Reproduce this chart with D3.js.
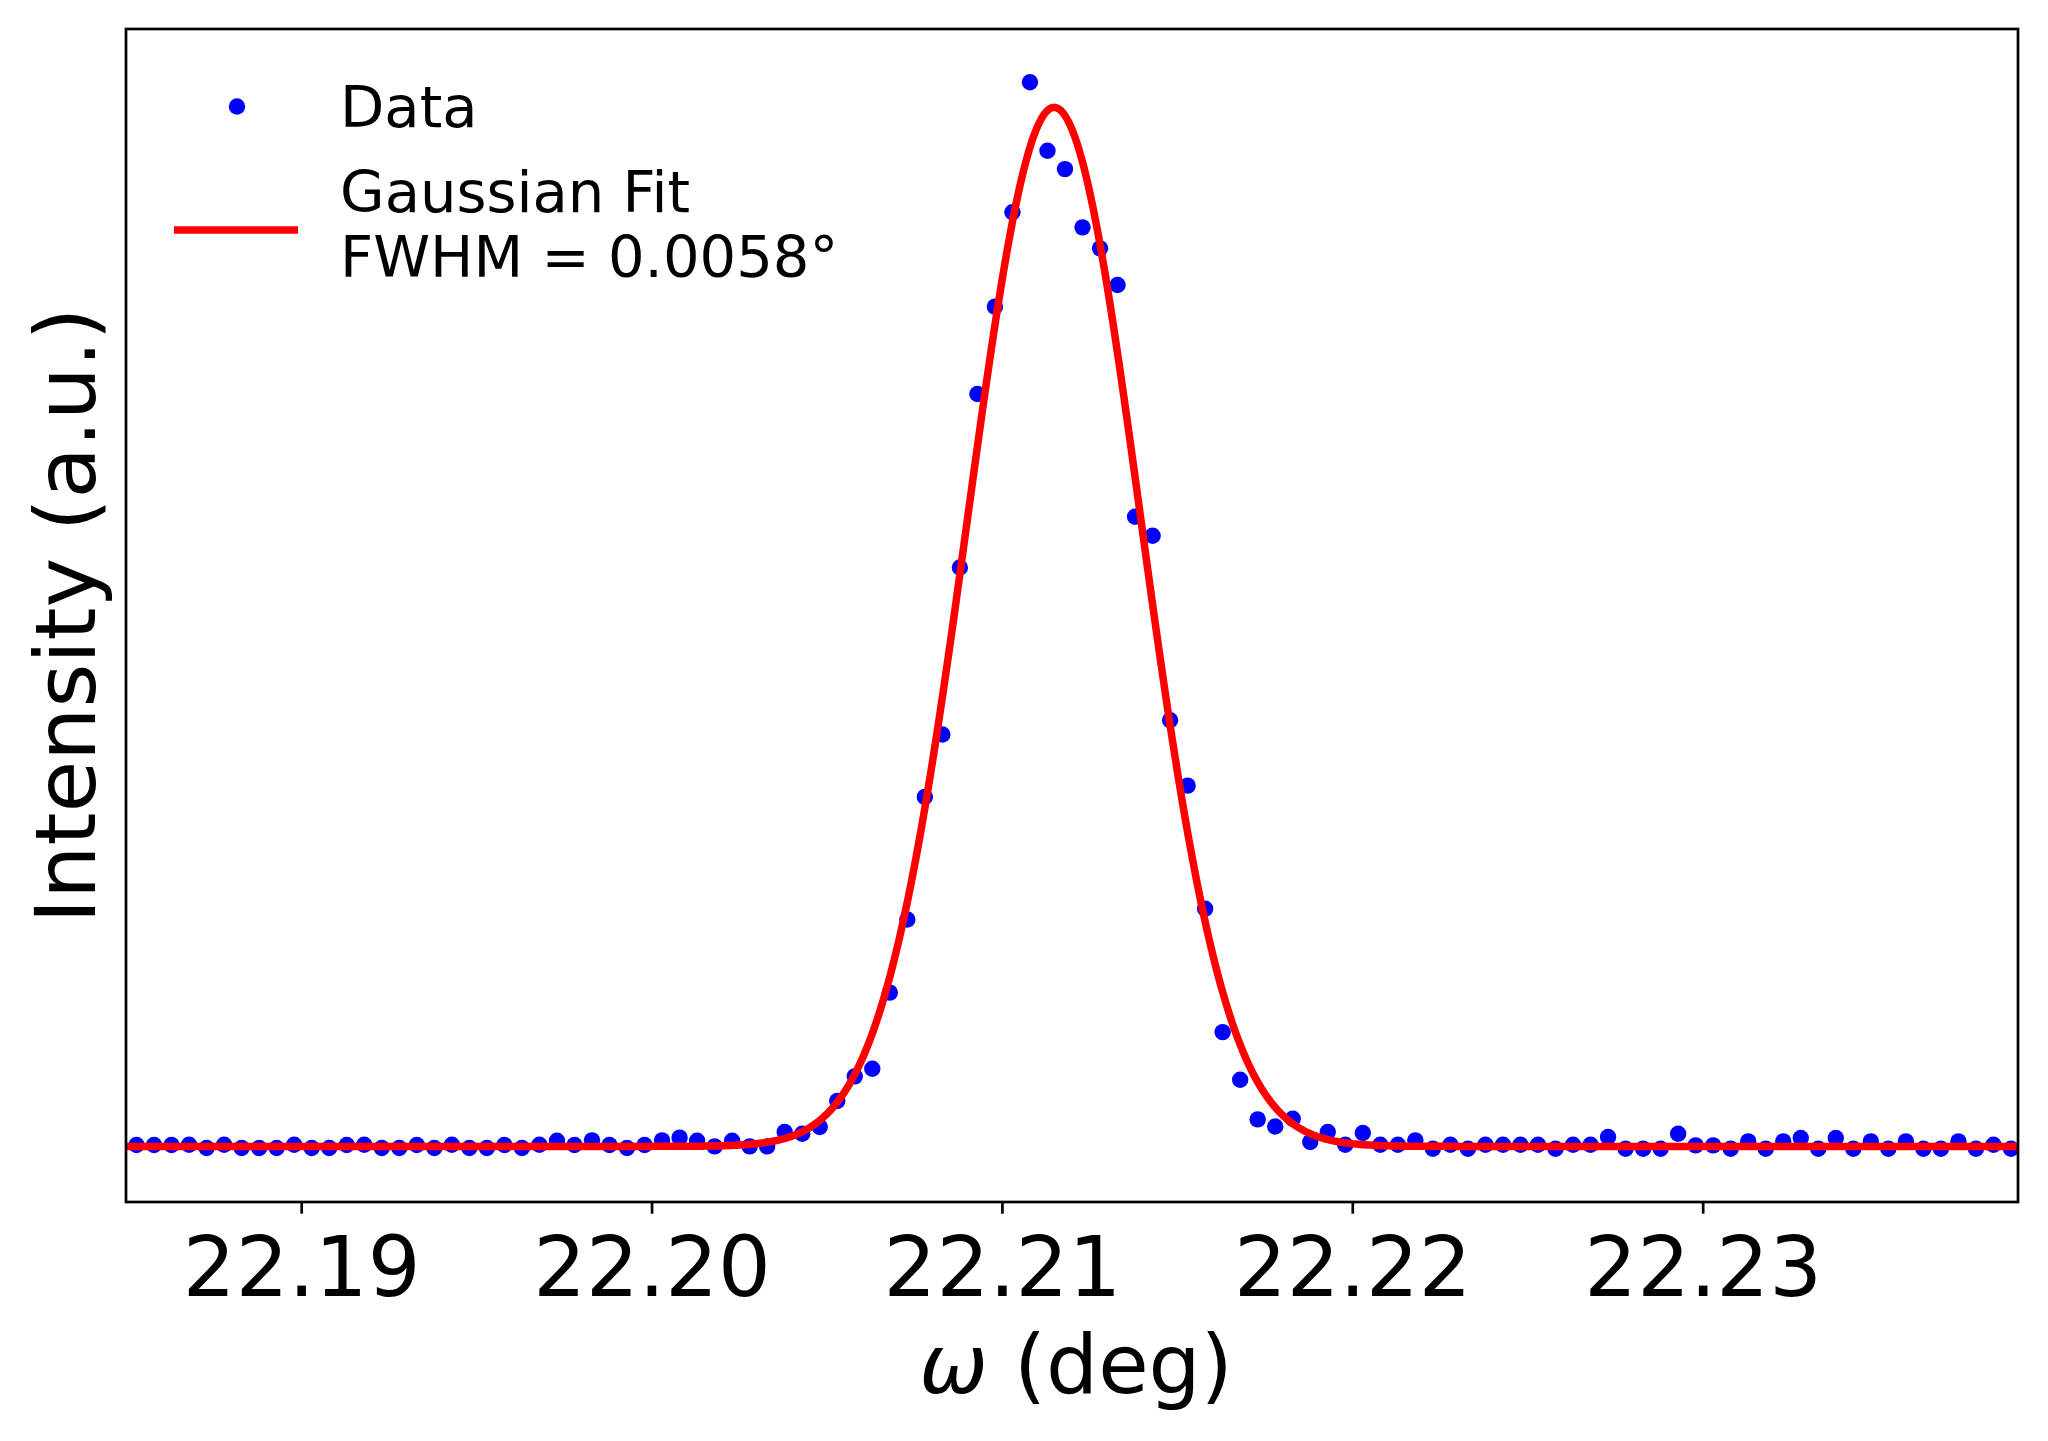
<!DOCTYPE html>
<html>
<head>
<meta charset="utf-8">
<script src="https://cdn.jsdelivr.net/npm/d3@7"></script>
<style>
  body { margin: 0; background: #fff; }
  svg text { font-family: "DejaVu Sans", sans-serif; }
</style>
</head>
<body>
<div id="container"></div>
<script>
/* DATA: omega scan points (deg) and normalised intensity (a.u.) */
const omega = [
  22.1853, 22.1858, 22.1863, 22.1868, 22.1873, 22.1878, 22.1883, 22.1888, 22.1893, 22.1898,
  22.1903, 22.1908, 22.1913, 22.1918, 22.1923, 22.1928, 22.1933, 22.1938, 22.1943, 22.1948,
  22.1953, 22.1958, 22.1963, 22.1968, 22.1973, 22.1978, 22.1983, 22.1988, 22.1993, 22.1998,
  22.2003, 22.2008, 22.2013, 22.2018, 22.2023, 22.2028, 22.2033, 22.2038, 22.2043, 22.2048,
  22.2053, 22.2058, 22.2063, 22.2068, 22.2073, 22.2078, 22.2083, 22.2088, 22.2093, 22.2098,
  22.2103, 22.2108, 22.2113, 22.2118, 22.2123, 22.2128, 22.2133, 22.2138, 22.2143, 22.2148,
  22.2153, 22.2158, 22.2163, 22.2168, 22.2173, 22.2178, 22.2183, 22.2188, 22.2193, 22.2198,
  22.2203, 22.2208, 22.2213, 22.2218, 22.2223, 22.2228, 22.2233, 22.2238, 22.2243, 22.2248,
  22.2253, 22.2258, 22.2263, 22.2268, 22.2273, 22.2278, 22.2283, 22.2288, 22.2293, 22.2298,
  22.2303, 22.2308, 22.2313, 22.2318, 22.2323, 22.2328, 22.2333, 22.2338, 22.2343, 22.2348,
  22.2353, 22.2358, 22.2363, 22.2368, 22.2373, 22.2378, 22.2383, 22.2388
];
const intensity = [
  0.0013, 0.0013, 0.0013, 0.0016, -0.0016, 0.0016, -0.0016, -0.0016, -0.0016, 0.0016,
  -0.0016, -0.0016, 0.0013, 0.0016, -0.0016, -0.0016, 0.0013, -0.0016, 0.0016, -0.0016,
  -0.0016, 0.0013, -0.0016, 0.0016, 0.0055, 0.0013, 0.0058, 0.0013, -0.0016, 0.0013,
  0.0058, 0.0084, 0.0055, 0.0000, 0.0055, 0.0000, 0.0000, 0.0139, 0.0122, 0.0187,
  0.0437, 0.0674, 0.0748, 0.1480, 0.2184, 0.3363, 0.3964, 0.5572, 0.7242, 0.8082,
  0.8990, 1.0241, 0.9583, 0.9406, 0.8845, 0.8643, 0.8290, 0.6060, 0.5877, 0.4101,
  0.3472, 0.2287, 0.1100, 0.0642, 0.0260, 0.0192, 0.0266, 0.0042, 0.0139, 0.0016,
  0.0129, 0.0016, 0.0016, 0.0058, -0.0022, 0.0016, -0.0022, 0.0016, 0.0016, 0.0016,
  0.0016, -0.0022, 0.0016, 0.0016, 0.0090, -0.0022, -0.0022, -0.0022, 0.0122, 0.0010,
  0.0010, -0.0022, 0.0048, -0.0022, 0.0048, 0.0081, -0.0022, 0.0081, -0.0022, 0.0048,
  -0.0022, 0.0048, -0.0022, -0.0022, 0.0048, -0.0022, 0.0016, -0.0022
];
const xTicks = [22.19, 22.20, 22.21, 22.22, 22.23];
const xLimits = [22.185, 22.239];

// gaussian fit parameters: [amplitude, centre, FWHM, offset]
const fitParams = [1.0, 22.21149, 0.0058, 0.0];
const legendLabels = ["Data", "Gaussian Fit", "FWHM = 0.0058°"];

/* CONSTANTS */
const W = 2048, H = 1441;
const margin = { top: 29, right: 30, bottom: 239, left: 126 };
const width = W - margin.left - margin.right;
const height = H - margin.top - margin.bottom;

const data = omega.map((x, i) => ({ x: x, y: intensity[i] }));

/* SCALES */
const xScale = d3.scaleLinear().domain(xLimits).range([0, width]);

// matplotlib style 5% padding around the data
const yMin = d3.min(intensity), yMax = d3.max(intensity);
const pad = 0.05 * (yMax - yMin);
const yScale = d3.scaleLinear().domain([yMin - pad, yMax + pad]).range([height, 0]);

/* SVG */
const svg = d3.select("#container")
  .append("svg")
  .attr("width", W)
  .attr("height", H)
  .style("background", "#fff");

svg.append("defs").append("clipPath")
  .attr("id", "plotClip")
  .append("rect")
  .attr("width", width)
  .attr("height", height);

const g = svg.append("g")
  .attr("transform", `translate(${margin.left}, ${margin.top})`);

const plot = g.append("g").attr("clip-path", "url(#plotClip)");

// data points
plot.selectAll("circle.pt")
  .data(data)
  .join("circle")
  .attr("class", "pt")
  .attr("cx", d => xScale(d.x))
  .attr("cy", d => yScale(d.y))
  .attr("r", 8.2)
  .attr("fill", "#0000ff");

// gaussian fit line
const [amp, mu, fwhm, off] = fitParams;
const sigma = fwhm / (2 * Math.sqrt(2 * Math.log(2)));
const fitX = d3.range(0, 801).map(k => xLimits[0] + (xLimits[1] - xLimits[0]) * k / 800);
const fitLine = d3.line()
  .x(x => xScale(x))
  .y(x => yScale(off + amp * Math.exp(-((x - mu) ** 2) / (2 * sigma * sigma))));

plot.append("path")
  .datum(fitX)
  .attr("d", fitLine)
  .attr("fill", "none")
  .attr("stroke", "#ff0000")
  .attr("stroke-width", 7.5)
  .attr("stroke-linejoin", "round");

// x axis
const xAxis = g.append("g")
  .attr("transform", `translate(0, ${height})`)
  .call(d3.axisBottom(xScale)
    .tickValues(xTicks)
    .tickFormat(d3.format(".2f"))
    .tickSize(11.7)
    .tickPadding(23));
xAxis.select(".domain").remove();
xAxis.selectAll(".tick line").attr("stroke", "#000").attr("stroke-width", 2.7);
xAxis.selectAll(".tick text")
  .attr("fill", "#000")
  .style("font-size", "83px")
  .style("font-family", "DejaVu Sans");

// frame
g.append("rect")
  .attr("width", width)
  .attr("height", height)
  .attr("fill", "none")
  .attr("stroke", "#000")
  .attr("stroke-width", 2.7);

// axis labels
const xLabel = svg.append("text")
  .attr("x", margin.left + width / 2 + 4)
  .attr("y", 1393)
  .attr("text-anchor", "middle")
  .style("font-size", "82px");
xLabel.append("tspan").style("font-style", "italic").text("ω");
xLabel.append("tspan").text(" (deg)");

svg.append("text")
  .attr("transform", `translate(95, ${margin.top + height / 2}) rotate(-90)`)
  .attr("text-anchor", "middle")
  .style("font-size", "84px")
  .text("Intensity (a.u.)");

// legend (no frame)
const legend = svg.append("g");
legend.append("circle")
  .attr("cx", 237).attr("cy", 106.5).attr("r", 8.2)
  .attr("fill", "#0000ff");
legend.append("text")
  .attr("x", 340).attr("y", 127)
  .style("font-size", "57.6px")
  .text(legendLabels[0]);
legend.append("line")
  .attr("x1", 174).attr("x2", 298)
  .attr("y1", 230).attr("y2", 230)
  .attr("stroke", "#ff0000")
  .attr("stroke-width", 7.5);
legend.append("text")
  .attr("x", 340).attr("y", 212)
  .style("font-size", "57.6px")
  .text(legendLabels[1]);
legend.append("text")
  .attr("x", 340).attr("y", 277)
  .style("font-size", "57.6px")
  .text(legendLabels[2]);
</script>
</body>
</html>
